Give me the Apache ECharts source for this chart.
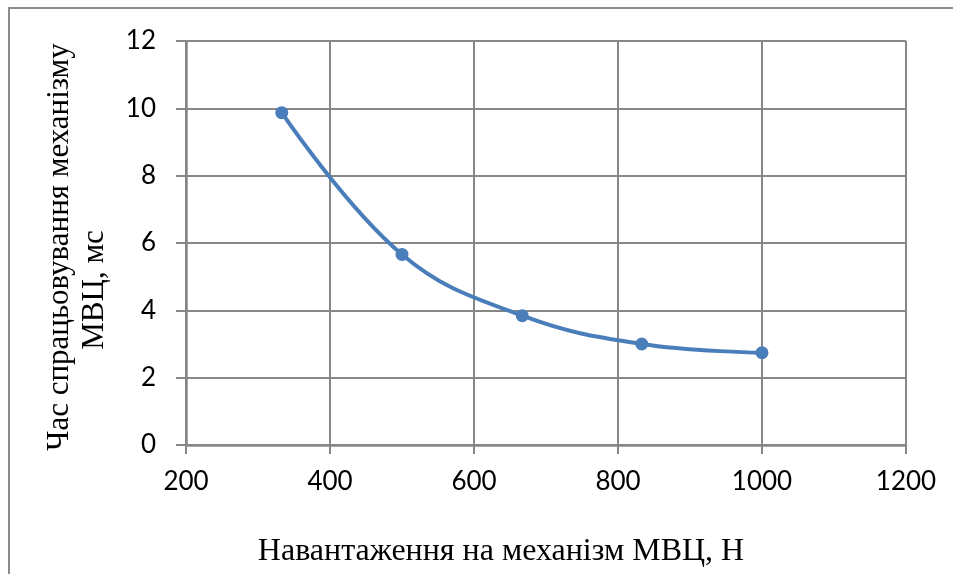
<!DOCTYPE html>
<html>
<head>
<meta charset="utf-8">
<script src="https://cdn.jsdelivr.net/npm/echarts@6/dist/echarts.min.js"></script>
<style>
  html, body { margin: 0; padding: 0; background: #fff; }
  #chart { width: 953px; height: 574px; }
</style>
</head>
<body>
<div id="chart"></div>
<script>
// load (N) and time (ms)
var loads = [333, 500, 667, 833, 1000]
var times = [9.87, 5.66, 3.84, 3.0, 2.74]
var xTitle = 'Навантаження на механізм МВЦ, Н'
var yTitle1 = 'Час спрацьовування механізму'
var yTitle2 = 'МВЦ, мс'

var chart = echarts.init(document.getElementById('chart'))
var gridColor = '#878787'

var option = {
  backgroundColor: '#fff',
  animation: false,
  grid: { left: 186, top: 41, right: 47, bottom: 129, containLabel: false },
  xAxis: {
    type: 'value',
    min: 200,
    max: 1200,
    interval: 200,
    axisLine: { show: true, lineStyle: { color: gridColor, width: 2.5 } },
    axisTick: { show: true, inside: false, length: 9, lineStyle: { color: gridColor, width: 2 } },
    splitLine: { show: true, lineStyle: { color: gridColor, width: 2 } },
    axisLabel: {
      color: '#000', fontFamily: 'Lato', fontSize: 26, margin: 24,
      formatter: function (v) { return String(v) }
    }
  },
  yAxis: {
    type: 'value',
    min: 0,
    max: 12,
    interval: 2,
    axisLine: { show: true, lineStyle: { color: gridColor, width: 2.5 } },
    axisTick: { show: true, inside: false, length: 10, lineStyle: { color: gridColor, width: 2 } },
    splitLine: { show: true, lineStyle: { color: gridColor, width: 2 } },
    axisLabel: { color: '#000', fontFamily: 'Lato', fontSize: 26, margin: 30 }
  },
  graphic: [
    {
      type: 'rect',
      silent: true,
      z: -1,
      shape: { x: 9, y: 8, width: 1200, height: 1200 },
      style: { fill: 'none', stroke: '#8c8c8c', lineWidth: 2 }
    },
    {
      type: 'text',
      x: 501,
      y: 552,
      style: {
        text: xTitle, fill: '#000', fontFamily: 'Liberation Serif', fontSize: 32,
        align: 'center', verticalAlign: 'middle'
      }
    },
    {
      type: 'text',
      x: 60,
      y: 247,
      rotation: Math.PI / 2,
      style: {
        text: yTitle1, fill: '#000', fontFamily: 'Liberation Serif', fontSize: 31,
        align: 'center', verticalAlign: 'middle'
      }
    },
    {
      type: 'text',
      x: 95,
      y: 290,
      rotation: Math.PI / 2,
      style: {
        text: yTitle2, fill: '#000', fontFamily: 'Liberation Serif', fontSize: 31,
        align: 'center', verticalAlign: 'middle'
      }
    }
  ],
  series: [
    {
      type: 'line',
      data: loads.map(function (x, i) { return [x, times[i]] }),
      smooth: 0.4,
      symbol: 'circle',
      symbolSize: 13,
      lineStyle: { color: '#4a7ebb', width: 4 },
      itemStyle: { color: '#4a7ebb' }
    }
  ]
}
chart.setOption(option)
</script>
</body>
</html>
